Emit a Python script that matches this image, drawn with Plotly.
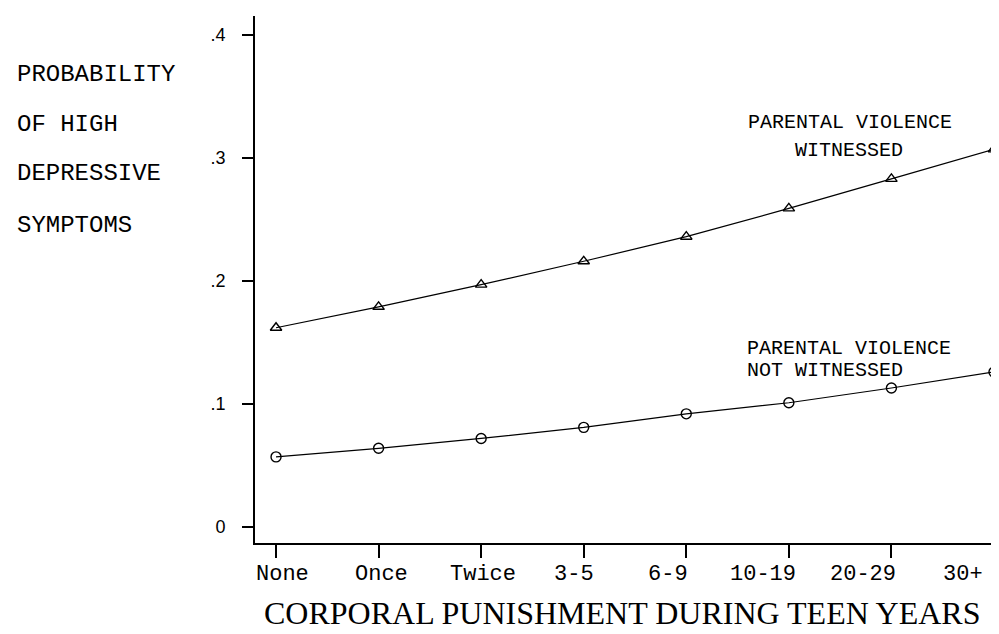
import plotly.graph_objects as go

categories = ["None", "Once", "Twice", "3-5", "6-9", "10-19", "20-29", "30+"]
witnessed = [0.162, 0.179, 0.197, 0.216, 0.236, 0.259, 0.283, 0.307]
not_witnessed = [0.057, 0.064, 0.072, 0.081, 0.092, 0.101, 0.113, 0.126]
y_tickvals = [0, 0.1, 0.2, 0.3, 0.4]
y_ticktext = ["0", ".1", ".2", ".3", ".4"]
y_label_lines = ["PROBABILITY", "OF HIGH", "DEPRESSIVE", "SYMPTOMS"]
x_title = "CORPORAL PUNISHMENT DURING TEEN YEARS"

MONO = "Liberation Mono, DejaVu Sans Mono, monospace"
SERIF = "Liberation Serif, DejaVu Serif, serif"

# layout helpers (pixel geometry of the plot area)
L, R, T, B = 247, 995, 8, 535
W, H = 999, 634
PW, PH = R - L, B - T

def px_x(px):
    return (px - L) / PW

def px_y(py):
    return (B - py) / PH

fig = go.Figure()
fig.add_trace(go.Scatter(
    x=categories, y=witnessed, mode="lines+markers",
    line=dict(color="black", width=1.2),
    marker=dict(symbol="triangle-up-open", size=10, color="black", line=dict(width=1.4)),
    name="Parental violence witnessed", showlegend=False, cliponaxis=False,
))
fig.add_trace(go.Scatter(
    x=categories, y=not_witnessed, mode="lines+markers",
    line=dict(color="black", width=1.2),
    marker=dict(symbol="circle-open", size=10, color="black", line=dict(width=1.4)),
    name="Parental violence not witnessed", showlegend=False, cliponaxis=False,
))

annotations = []
# y-axis description, typewriter style
for txt, py in zip(y_label_lines, [66, 116, 165, 217]):
    annotations.append(dict(
        text=txt, xref="paper", yref="paper",
        x=px_x(7), y=px_y(py),
        xanchor="left", yanchor="middle", showarrow=False,
        font=dict(family=MONO, size=24, color="black"),
    ))

# x tick labels (drawn slightly offset from the ticks, as in the original)
label_shift = [6, 3, 2, -10, -18, -26, -28, -31]
for cat, sh in zip(categories, label_shift):
    annotations.append(dict(
        text=cat, xref="x", yref="paper", x=cat, y=px_y(566),
        xshift=sh, xanchor="center", yanchor="middle", showarrow=False,
        font=dict(family=MONO, size=22, color="black"),
    ))

# series labels
annotations += [
    dict(text="PARENTAL VIOLENCE", xref="x", yref="y", x=5.596, y=0.3285,
         xanchor="center", yanchor="middle", showarrow=False,
         font=dict(family=MONO, size=20, color="black")),
    dict(text="WITNESSED", xref="x", yref="y", x=5.586, y=0.3057,
         xanchor="center", yanchor="middle", showarrow=False,
         font=dict(family=MONO, size=20, color="black")),
    dict(text="PARENTAL VIOLENCE", xref="x", yref="y", x=4.573, y=0.1455,
         xanchor="left", yanchor="middle", showarrow=False,
         font=dict(family=MONO, size=20, color="black")),
    dict(text="NOT WITNESSED", xref="x", yref="y", x=4.573, y=0.1276,
         xanchor="left", yanchor="middle", showarrow=False,
         font=dict(family=MONO, size=20, color="black")),
]

annotations.append(dict(
    text=x_title, xref="paper", yref="paper",
    x=px_x(614), y=px_y(605), xanchor="center", yanchor="middle",
    showarrow=False, font=dict(family=SERIF, size=32, color="black"),
    borderpad=0,
))

fig.update_layout(
    width=W, height=H,
    margin=dict(l=L, r=W - R, t=T, b=H - B),
    paper_bgcolor="white", plot_bgcolor="white",
    annotations=annotations,
    xaxis=dict(
        type="category", range=[-0.205, 7.088],
        showgrid=False, zeroline=False,
        showline=True, linecolor="black", linewidth=1.8,
        ticks="outside", ticklen=13, tickwidth=2, tickcolor="black",
        showticklabels=False,
    ),
    yaxis=dict(
        range=[-0.0130, 0.4154],
        showgrid=False, zeroline=False,
        showline=True, linecolor="black", linewidth=2,
        ticks="outside", ticklen=11, tickwidth=1.5, tickcolor="black",
        tickvals=y_tickvals, ticktext=y_ticktext,
        tickfont=dict(family="Liberation Sans, Arial, sans-serif", size=18, color="black"),
        ticklabelstandoff=13,
    ),
)

fig.write_html("out.html")
